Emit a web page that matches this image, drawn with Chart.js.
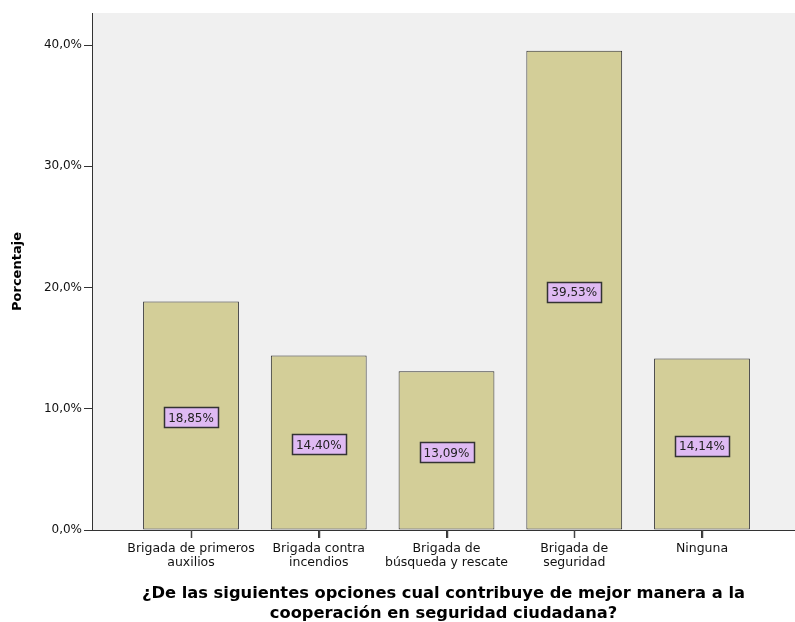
<!DOCTYPE html>
<html>
<head>
<meta charset="utf-8">
<script src="https://cdn.jsdelivr.net/npm/chart.js@4/dist/chart.umd.min.js"></script>
<style>
  html, body { margin: 0; padding: 0; background: #ffffff; }
  #wrap { width: 795px; height: 622px; }
</style>
</head>
<body>
<div id="wrap"><canvas id="chart" width="795" height="622"></canvas></div>
<script>
// data
var categories = [
    ['Brigada de primeros', 'auxilios'],
    ['Brigada contra', 'incendios'],
    ['Brigada de', 'búsqueda y rescate'],
    ['Brigada de', 'seguridad'],
    ['Ninguna']
];
var percentages = [18.85, 14.40, 13.09, 39.53, 14.14];
var yTicks = [0, 10, 20, 30, 40];
var xTitle = ['¿De las siguientes opciones cual contribuye de mejor manera a la', 'cooperación en seguridad ciudadana?'];
var yTitle = 'Porcentaje';

function fmt(v, d) {
    return v.toFixed(d).replace('.', ',') + '%';
}

var points = percentages.map(function (v, i) {
    return { x: i, y: v };
});

var plotBg = {
    id: 'plotBg',
    beforeDraw: function (chart) {
        var a = chart.chartArea;
        var ctx = chart.ctx;
        ctx.save();
        ctx.fillStyle = '#f0f0f0';
        ctx.fillRect(a.left, a.top, a.right - a.left, a.bottom - a.top);
        ctx.restore();
    }
};

var valueBoxes = {
    id: 'valueBoxes',
    afterDatasetsDraw: function (chart) {
        var ctx = chart.ctx;
        var meta = chart.getDatasetMeta(0);
        ctx.save();
        ctx.font = '12px "DejaVu Sans"';
        ctx.textAlign = 'center';
        ctx.textBaseline = 'middle';
        meta.data.forEach(function (bar, i) {
            var txt = fmt(percentages[i], 2);
            var w = Math.round(ctx.measureText(txt).width + 8);
            var h = 20;
            var cx = bar.x;
            var cy = (bar.y + bar.base) / 2 + 2;
            var x0 = Math.round(cx - w / 2) + 0.5;
            var y0 = Math.round(cy - h / 2) + 0.5;
            ctx.fillStyle = '#dfbaf3';
            ctx.fillRect(x0, y0, w, h);
            ctx.strokeStyle = '#333333';
            ctx.lineWidth = 1.5;
            ctx.strokeRect(x0, y0, w, h);
            ctx.fillStyle = '#222222';
            ctx.fillText(txt, cx, cy + 1);
        });
        // small tick marks under the category axis
        var xs = chart.scales.x;
        ctx.strokeStyle = '#444444';
        ctx.lineWidth = 1.5;
        categories.forEach(function (c, i) {
            var px = Math.round(xs.getPixelForValue(i)) + 0.5;
            ctx.beginPath();
            ctx.moveTo(px, xs.top);
            ctx.lineTo(px, xs.top + 8);
            ctx.stroke();
        });
        ctx.restore();
    }
};

var chart = new Chart('chart', {
    type: 'bar',
    data: {
        datasets: [
            {
                data: points,
                backgroundColor: '#d3ce98',
                borderColor: '#2e2e2e',
                borderWidth: 1,
                borderSkipped: false,
                barPercentage: 0.75,
                categoryPercentage: 1
            }
        ]
    },
    options: {
        responsive: false,
        animation: false,
        layout: { padding: { top: 13, right: 0, left: 0, bottom: 0 } },
        plugins: {
            legend: { display: false },
            tooltip: { enabled: false }
        },
        scales: {
            x: {
                type: 'linear',
                offset: false,
                min: -0.775,
                max: 4.728,
                afterBuildTicks: function (axis) {
                    axis.ticks = categories.map(function (c, i) { return { value: i }; });
                },
                afterFit: function (axis) { axis.height = 92; },
                grid: {
                    offset: false,
                    drawOnChartArea: false,
                    drawTicks: true,
                    tickLength: 8,
                    color: '#333333'
                },
                border: { display: true, color: '#333333', width: 1 },
                ticks: {
                    autoSkip: false,
                    maxRotation: 0,
                    padding: 4,
                    color: '#111111',
                    font: { family: 'DejaVu Sans', size: 12.5, lineHeight: 1.1 },
                    callback: function (v) { return categories[v]; }
                },
                title: {
                    display: true,
                    text: xTitle,
                    color: '#000000',
                    padding: { top: 4, bottom: -2 },
                    font: { family: 'DejaVu Sans', size: 16.3, weight: 'bold', lineHeight: 1.22 }
                }
            },
            y: {
                min: 0,
                max: 42.64,
                afterBuildTicks: function (axis) {
                    axis.ticks = yTicks.map(function (t) { return { value: t }; });
                },
                afterFit: function (axis) { axis.width = 92; },
                grid: {
                    drawOnChartArea: false,
                    drawTicks: true,
                    tickLength: 8,
                    color: '#333333'
                },
                border: { display: true, color: '#333333', width: 1 },
                ticks: {
                    padding: 2,
                    color: '#111111',
                    font: { family: 'DejaVu Sans', size: 12 },
                    callback: function (v) { return fmt(v, 1); }
                },
                title: {
                    display: true,
                    text: yTitle,
                    color: '#000000',
                    padding: { top: 10, bottom: 0 },
                    font: { family: 'DejaVu Sans', size: 13, weight: 'bold' }
                }
            }
        }
    },
    plugins: [plotBg, valueBoxes]
});
</script>
</body>
</html>
